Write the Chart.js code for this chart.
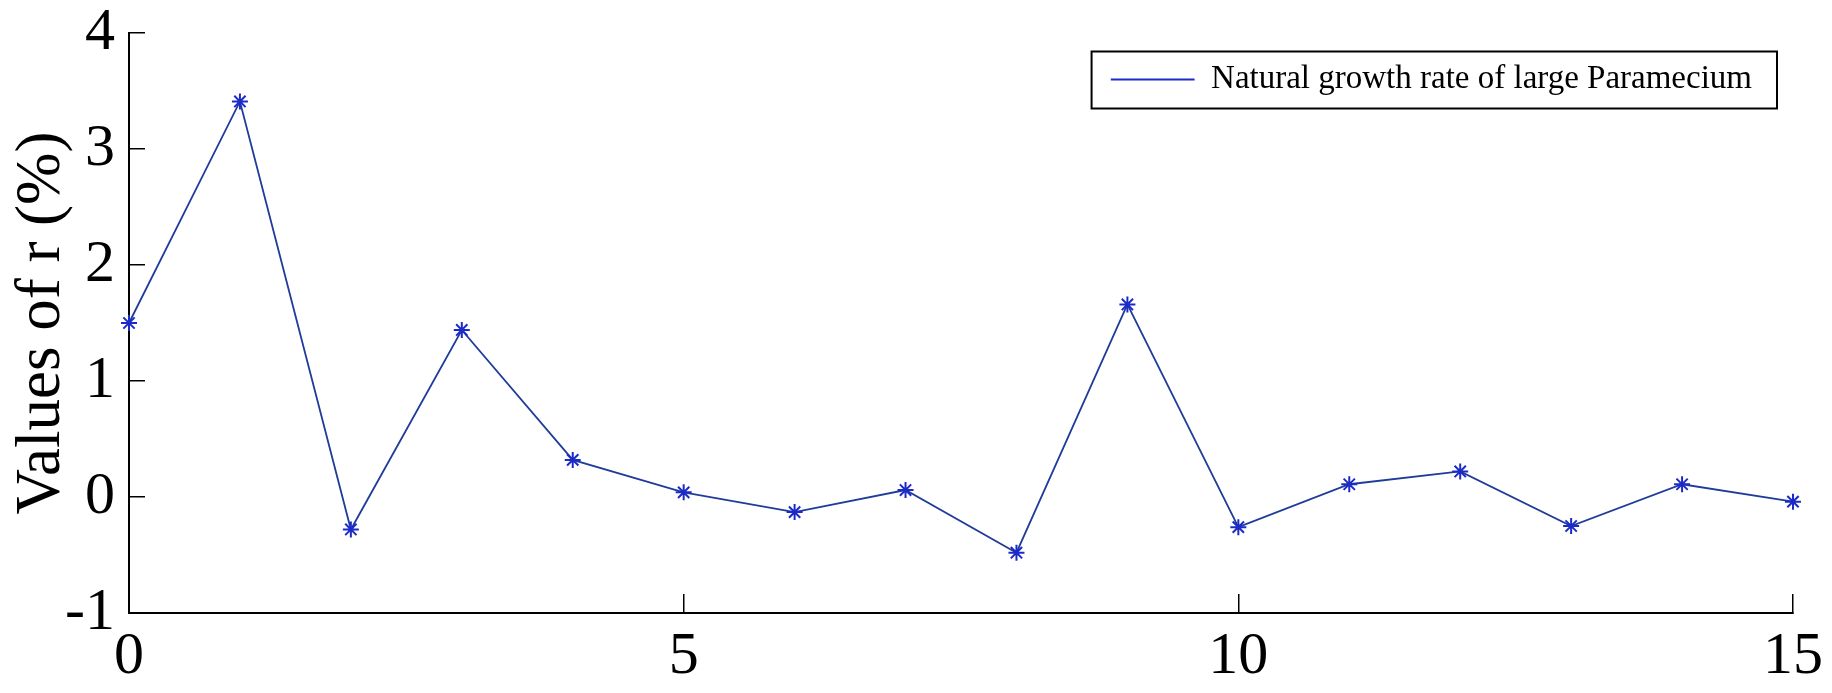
<!DOCTYPE html>
<html>
<head>
<meta charset="utf-8">
<title>Natural growth rate of large Paramecium</title>
<script src="https://cdn.jsdelivr.net/npm/chart.js@4.4.1/dist/chart.umd.min.js"></script>
<style>
  html, body { margin: 0; padding: 0; background: #fff; }
  #wrap { width: 1832px; height: 693px; }
</style>
</head>
<body>
<div id="wrap"><canvas id="growthChart"></canvas></div>
<script>
// time steps and r values
const steps = [0, 1, 2, 3, 4, 5, 6, 7, 8, 9, 10, 11, 12, 13, 14, 15];
const rValues = [1.50, 3.41, -0.28, 1.44, 0.32, 0.04, -0.13, 0.06, -0.48, 1.66, -0.26, 0.11, 0.22, -0.25, 0.11, -0.04];

const xTicks = [0, 5, 10, 15];
const yTicks = [-1, 0, 1, 2, 3, 4];

const seriesLabel = 'Natural growth rate of large Paramecium';
const yTitle = 'Values of r (%)';

const serif = '"Liberation Serif", "Times New Roman", serif';
const lineBlue = '#1f3c9a';
const markBlue = '#1c2ac8';

// legend sits inside the plot, top right, with a black frame round it
const legendFrame = {
    id: 'legendFrame',
    afterLayout(chart) {
        const lg = chart.legend;
        const area = chart.chartArea;
        const itemW = lg.columnSizes[0].width;
        lg.left = area.right - 41 - itemW;
        lg.top = area.top + 30;
        lg.right = lg.left + lg.width;
        lg.bottom = lg.top + lg.height;
    },
    afterDraw(chart) {
        const hb = chart.legend.legendHitBoxes[0];
        if (!hb) return;
        const ctx = chart.ctx;
        ctx.save();
        ctx.strokeStyle = '#000';
        ctx.lineWidth = 2;
        ctx.strokeRect(hb.left - 19, hb.top + hb.height / 2 - 28, hb.width + 44, 57);
        ctx.restore();
    }
};

const ctx = document.getElementById('growthChart').getContext('2d');

new Chart(ctx, {
    type: 'line',
    data: {
        datasets: [{
            label: seriesLabel,
            data: steps.map((s, i) => ({ x: s, y: rValues[i] })),
            borderColor: lineBlue,
            borderWidth: 1.8,
            tension: 0,
            fill: false,
            clip: false,
            pointStyle: 'star',
            pointRadius: 8,
            pointHoverRadius: 8,
            pointBorderColor: markBlue,
            pointBackgroundColor: markBlue,
            pointBorderWidth: 2
        }]
    },
    options: {
        responsive: true,
        maintainAspectRatio: false,
        animation: false,
        layout: {
            padding: { left: 0, right: 39, top: 33, bottom: 0 }
        },
        plugins: {
            tooltip: { enabled: false },
            legend: {
                display: true,
                position: 'chartArea',
                align: 'start',
                labels: {
                    usePointStyle: true,
                    pointStyle: 'line',
                    pointStyleWidth: 84,
                    padding: 0,
                    color: '#000',
                    font: { family: serif, size: 33 }
                }
            }
        },
        scales: {
            x: {
                type: 'linear',
                min: 0,
                max: 15,
                afterBuildTicks: scale => { scale.ticks = xTicks.map(v => ({ value: v })); },
                afterFit: scale => {
                    scale.height = 80;
                    scale.paddingLeft = 0;
                    scale.paddingRight = 0;
                },
                border: { display: true, color: '#000', width: 2 },
                grid: {
                    display: true,
                    drawOnChartArea: false,
                    drawTicks: true,
                    tickLength: -19,
                    color: '#000',
                    lineWidth: 1.5
                },
                ticks: {
                    color: '#000',
                    padding: 27,
                    maxRotation: 0,
                    autoSkip: false,
                    font: { family: serif, size: 60 }
                }
            },
            y: {
                type: 'linear',
                min: -1,
                max: 4,
                afterBuildTicks: scale => { scale.ticks = yTicks.map(v => ({ value: v })); },
                afterFit: scale => {
                    scale.width = 129;
                    scale.paddingTop = 0;
                    scale.paddingBottom = 0;
                },
                border: { display: true, color: '#000', width: 2 },
                grid: {
                    display: true,
                    drawOnChartArea: false,
                    drawTicks: true,
                    tickLength: -16,
                    color: '#000',
                    lineWidth: 1.5
                },
                ticks: {
                    color: '#000',
                    padding: 30,
                    font: { family: serif, size: 60 }
                },
                title: {
                    display: true,
                    text: yTitle,
                    color: '#000',
                    padding: { top: 5, bottom: 0 },
                    font: { family: serif, size: 63 }
                }
            }
        }
    },
    plugins: [legendFrame]
});
</script>
</body>
</html>
